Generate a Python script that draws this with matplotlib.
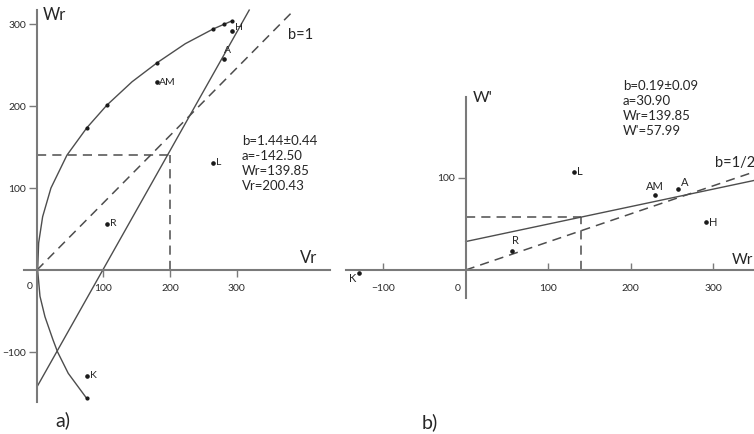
import matplotlib.pyplot as plt

#-- Data ---

# arrays, in the same order on both panels
labels = ['K', 'R', 'L', 'AM', 'A', 'H']
vr = [74.7, 105.8, 265, 181, 281, 293.7]
wr = [-129, 56, 131, 229, 257, 291]
w_prime = [-3, 21, 106.5, 81, 88.5, 52]

# parabola drawn on panel a), from the top end to the bottom end
curve_vr = [293.7, 281, 265, 223, 181, 143, 105, 75, 45, 21, 8.5, 2.5, 1,
            4.5, 12, 24, 31, 47, 74.7]
curve_wr = [304, 299.6, 294, 276, 253, 229.6, 201, 173.5, 140, 100, 65, 33, 0,
            -32, -57, -85, -100, -126, -156.5]
# where each array sits on the parabola (same Vr as above)
curve_dot_wr = [173.5, 201, 294, 253, 299.6, 304]
curve_end = (74.7, -156.5)

# regression a): Wr on Vr
b_a, b_a_err, a_a = 1.44, 0.44, -142.50
wr_mean, vr_mean = 139.85, 200.43
ref_slope_a = 0.82      # dashed "b=1" line as drawn

# regression b): W' on Wr
b_b, b_b_err, a_b = 0.19, 0.09, 30.90
wp_mean = 57.99
ref_slope_b = 0.305     # dashed "b=1/2" line as drawn

LINE = '#4d4d4d'
AXIS = '#7a7a7a'
TEXT = '#262626'
TICK_TEXT = '#2a2a2a'
PT = 72 / 100           # points per pixel at dpi 100

plt.rcParams['font.family'] = ['Lato', 'DejaVu Sans']


def setup_axes(ax, xlim, ylim, xbounds, ybounds, xticks, yticks, xdir, xpad):
    """Cross-shaped axes through the origin."""
    ax.set_xlim(*xlim)
    ax.set_ylim(*ylim)
    ax.patch.set_visible(False)
    for s in ['top', 'right']:
        ax.spines[s].set_visible(False)
    ax.spines['left'].set_position(('data', 0))
    ax.spines['bottom'].set_position(('data', 0))
    ax.spines['left'].set_bounds(*ybounds)
    ax.spines['bottom'].set_bounds(*xbounds)
    for s in ['left', 'bottom']:
        ax.spines[s].set_color(AXIS)
        ax.spines[s].set_linewidth(1.5)
    ax.set_xticks(xticks)
    ax.set_yticks(yticks)
    ax.tick_params(axis='x', direction=xdir, length=5, width=1, color=AXIS,
                   pad=xpad, labelsize=7.5, labelcolor=TICK_TEXT)
    ax.tick_params(axis='y', direction='out', length=6, width=1, color=AXIS,
                   pad=2, labelsize=7.5, labelcolor=TICK_TEXT)


def label_points(ax, xs, ys, offsets, size):
    # offsets are in pixels, positive dy = up
    ax.plot(xs, ys, 'o', ms=2.3, color='#1a1a1a', zorder=5)
    for x, y, name in zip(xs, ys, labels):
        dx, dy, ha = offsets[name]
        ax.annotate(name, (x, y), xytext=(dx * PT, dy * PT), textcoords='offset points',
                    ha=ha, va='center', fontsize=size, color=TEXT)


fig = plt.figure(figsize=(7.54, 4.34), dpi=100)

#-- Panel a) ---
ax1 = fig.add_axes([0, 0, 340 / 754, 1])
setup_axes(ax1, (-55.6, 455.6), (-200, 329.3), (-19.5, 440), (-161, 317),
           [100, 200, 300], [-100, 100, 200, 300], 'out', 5)

ax1.plot(curve_vr, curve_wr, color=LINE, lw=1.0)
ax1.plot(vr, curve_dot_wr, 'o', ms=2.0, color='#1a1a1a')
ax1.plot(*curve_end, 'o', ms=2.0, color='#1a1a1a')

top_a = 317
ax1.plot([0, (top_a - a_a) / b_a], [a_a, top_a], color=LINE, lw=1.0)
ax1.plot([0, 383.5], [0, ref_slope_a * 383.5], color=LINE, lw=1.1, dashes=(6, 4))
ax1.plot([0, vr_mean], [wr_mean, wr_mean], color=LINE, lw=1.1, dashes=(6, 4))
ax1.plot([vr_mean, vr_mean], [0, wr_mean], color=LINE, lw=1.1, dashes=(6, 4))

label_points(ax1, vr, wr, {'K': (3, 0, 'left'), 'R': (3, 1, 'left'),
                           'L': (3, 0, 'left'), 'AM': (2, 0, 'left'),
                           'A': (4, 9, 'center'), 'H': (3, 4, 'left')}, 7.5)

ax1.text(9, 311, 'Wr', fontsize=12, va='center', color=TEXT)
ax1.text(395, 14.6, 'Vr', fontsize=12, va='center', color=TEXT)
ax1.text(377, 286.6, 'b=1', fontsize=10.5, va='center', color=TEXT)
ax1.text(-10.5, -20.7, '0', fontsize=7.5, ha='center', va='center', color=TICK_TEXT)
ax1.text(308, 164.6,
         f'b={b_a:.2f}±{b_a_err:.2f}\na={a_a:.2f}\nWr={wr_mean:.2f}\nVr={vr_mean:.2f}',
         fontsize=9.5, va='top', linespacing=1.3, color=TEXT)

#-- Panel b) ---
ax2 = fig.add_axes([345 / 754, 0, 409 / 754, 1])
setup_axes(ax2, (-146.3, 349.5), (-178.3, 293.5), (-145, 360), (-30.4, 187.7),
           [-100, 100, 200, 300], [100], 'in', 10)

ax2.plot([0, 360], [a_b, a_b + b_b * 360], color=LINE, lw=1.0)
ax2.plot([0, 360], [0, ref_slope_b * 360], color=LINE, lw=1.1, dashes=(6, 4))
ax2.plot([0, wr_mean], [wp_mean, wp_mean], color=LINE, lw=1.1, dashes=(6, 4))
ax2.plot([wr_mean, wr_mean], [0, wp_mean], color=LINE, lw=1.1, dashes=(6, 4))

label_points(ax2, wr, w_prime, {'K': (-3, -6, 'right'), 'R': (4, 10, 'center'),
                                'L': (3, 1, 'left'), 'AM': (0, 9, 'center'),
                                'A': (7, 6.5, 'center'), 'H': (3, 0, 'left')}, 8)

ax2.text(8.8, 187, "W'", fontsize=11.5, va='center', color=TEXT)
ax2.text(349, 10.9, 'Wr', fontsize=11, ha='right', va='center', color=TEXT)
ax2.text(302, 116.3, 'b=1/2', fontsize=10.5, va='center', color=TEXT)
ax2.text(-9.3, -19.6, '0', fontsize=7.5, ha='center', va='center', color=TICK_TEXT)
ax2.text(190.7, 206.5,
         f"b={b_b:.2f}±{b_b_err:.2f}\na={a_b:.2f}\nWr={wr_mean:.2f}\nW'={wp_mean:.2f}",
         fontsize=9.5, va='top', linespacing=1.3, color=TEXT)

fig.text(55 / 754, 1 - 420 / 434, 'a)', fontsize=14, va='center', color=TEXT)
fig.text(422 / 754, 1 - 422 / 434, 'b)', fontsize=14, va='center', color=TEXT)

fig.savefig('out.png', dpi=100)
